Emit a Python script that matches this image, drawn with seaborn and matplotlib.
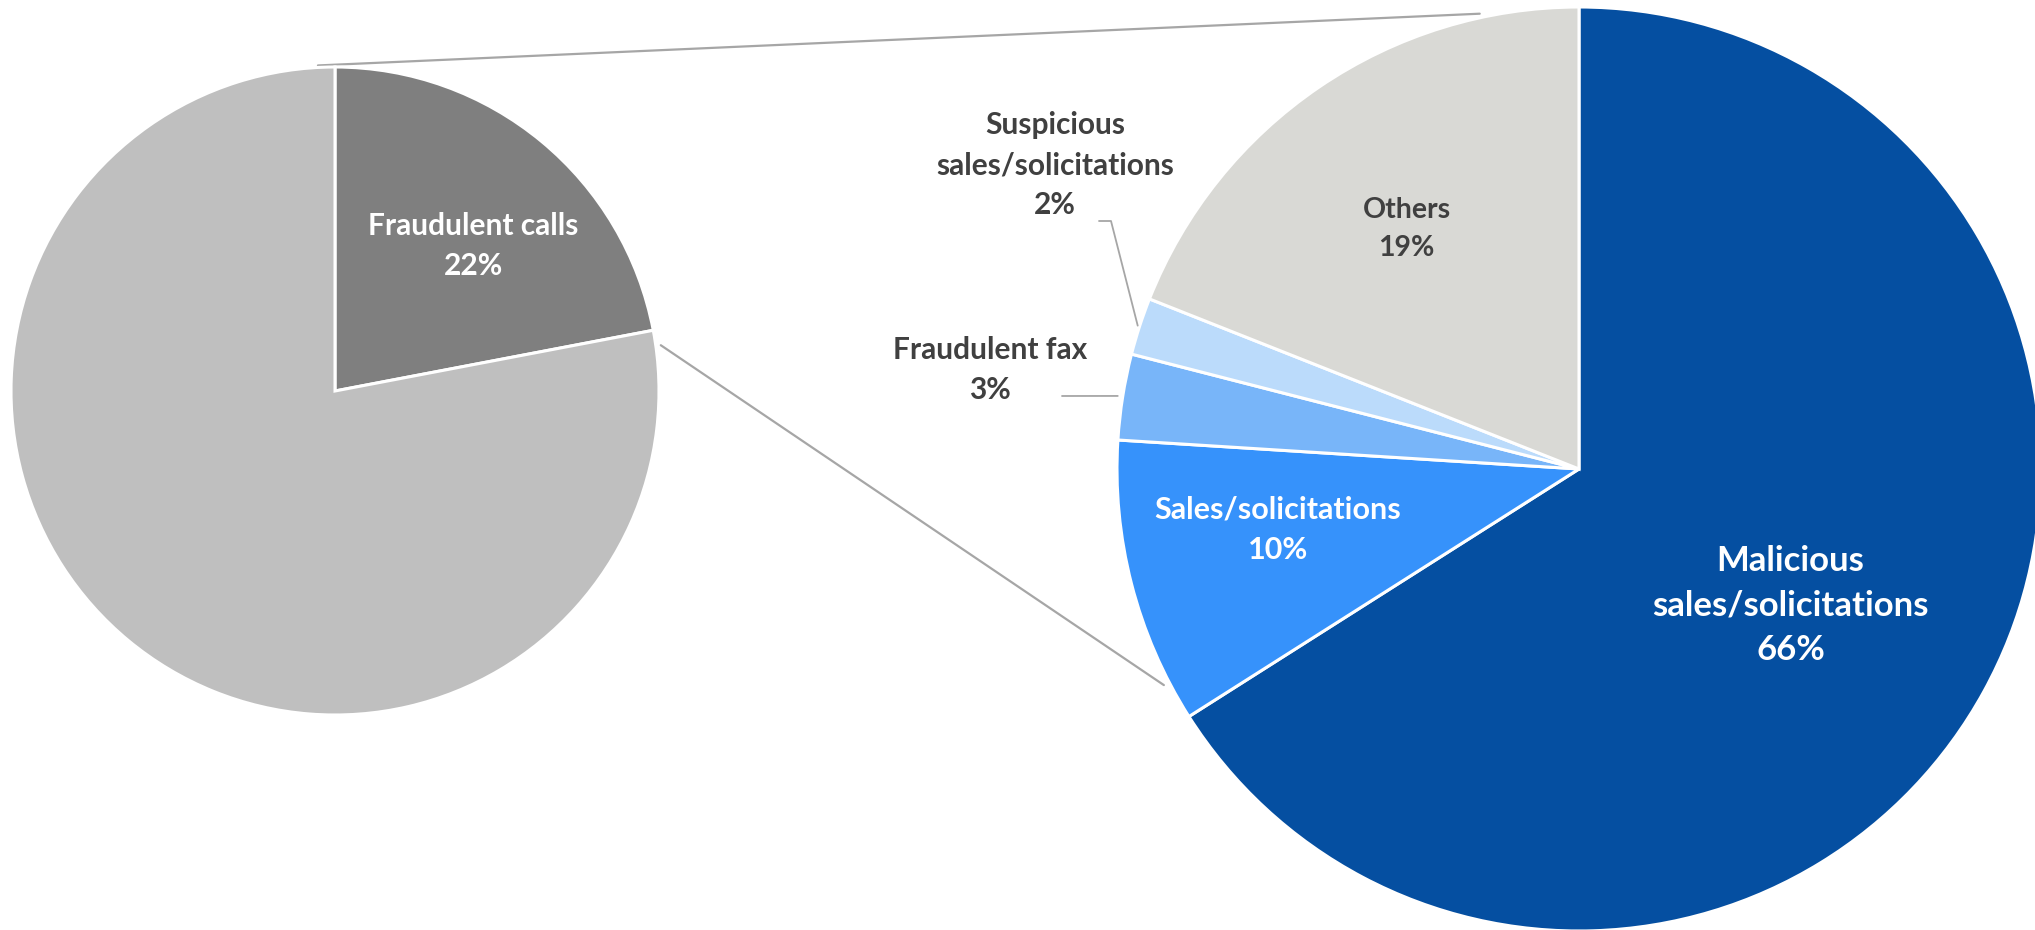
import numpy as np
import matplotlib
matplotlib.use("Agg")
import matplotlib.pyplot as plt
import seaborn as sns

# ---- data ----
main_labels = ["Fraudulent calls", "Other calls"]
main_values = [22, 78]

detail_labels = ["Malicious\nsales/solicitations", "Sales/solicitations",
                 "Fraudulent fax", "Suspicious\nsales/solicitations", "Others"]
detail_values = [66, 10, 3, 2, 19]

# ---- style ----
sns.set_theme(style="white")
plt.rcParams["font.family"] = ["Lato", "DejaVu Sans"]

main_colors = sns.color_palette(["#7F7F7F", "#BFBFBF"])
detail_colors = sns.color_palette(["#054FA1", "#3692FB", "#78B5F9", "#BBDBFB", "#D9D9D5"])

W, H = 2035, 930
fig = plt.figure(figsize=(W / 100, H / 100), dpi=100)
ax = fig.add_axes([0, 0, 1, 1])

# pie geometry in pixel units (y grows upwards)
c_main, r_main = (335, H - 391), 324
c_det, r_det = (1579, H - 469), 462

edge = dict(edgecolor="white", linewidth=2.2)
ax.pie(main_values, colors=main_colors, startangle=90, counterclock=False,
       center=c_main, radius=r_main, wedgeprops=edge)
ax.pie(detail_values, colors=detail_colors, startangle=90, counterclock=False,
       center=c_det, radius=r_det, wedgeprops=edge)


def on_circle(center, radius, angle_deg):
    """Point at a clockwise-from-top angle around a pie centre."""
    a = np.deg2rad(angle_deg)
    return center[0] + radius * np.sin(a), center[1] + radius * np.cos(a)


def mid_angle(values, i):
    cum = np.cumsum([0] + list(values))
    return 360 * (cum[i] + cum[i + 1]) / 2 / sum(values)


# connector lines between the two pies
line_kw = dict(color="#A6A6A6", lw=1.6, zorder=0)
p1 = on_circle(c_main, r_main + 2, -3)
p2 = on_circle(c_det, r_det + 4, -12.3)
ax.plot([p1[0], p2[0]], [p1[1], p2[1]], **line_kw)
p3 = on_circle(c_main, r_main + 5, 82)
p4 = on_circle(c_det, r_det + 6, 242.5)
ax.plot([p3[0], p4[0]], [p3[1], p4[1]], **line_kw)


def pct(v, total):
    return f"{round(100 * v / total)}%"


LS = 1.52
FS = 21.5

# labels inside the pies
tot_m = sum(main_values)
x, y = on_circle(c_main, r_main * 0.62, mid_angle(main_values, 0) + 4)
ax.text(x, y, f"{main_labels[0]}\n{pct(main_values[0], tot_m)}", ha="center", va="center",
        color="white", fontsize=FS, fontweight="bold", linespacing=LS)

tot_d = sum(detail_values)
inside = {0: (0.545, 4, "white", 25, 1.47), 1: (0.665, 3, "white", FS + 0.5, LS),
          4: (0.64, -1.5, "#404040", FS - 1, 1.6)}
for i, (rf, da, col, fs, ls) in inside.items():
    x, y = on_circle(c_det, r_det * rf, mid_angle(detail_values, i) + da)
    ax.text(x, y, f"{detail_labels[i]}\n{pct(detail_values[i], tot_d)}", ha="center",
            va="center", color=col, fontsize=fs, fontweight="bold", linespacing=ls)

# small slices: labels outside with leader lines
lead_kw = dict(color="#A6A6A6", lw=1.3)
# Fraudulent fax
tip = on_circle(c_det, r_det + 5, mid_angle(detail_values, 2))
ax.plot([1062, tip[0]], [H - 396, tip[1]], **lead_kw)
ax.text(990, H - 370, f"{detail_labels[2]}\n{pct(detail_values[2], tot_d)}", ha="center",
        va="center", color="#404040", fontsize=FS, fontweight="bold", linespacing=LS)
# Suspicious sales/solicitations
tip = on_circle(c_det, r_det + 2, mid_angle(detail_values, 3))
ax.plot([1099, 1111, tip[0]], [H - 221, H - 221, tip[1]], **lead_kw)
ax.text(1055, H - 165, f"{detail_labels[3]}\n{pct(detail_values[3], tot_d)}", ha="center",
        va="center", color="#404040", fontsize=FS, fontweight="bold", linespacing=LS)

ax.set_xlim(0, W)
ax.set_ylim(0, H)
ax.set_aspect("equal", adjustable="box")
ax.axis("off")

fig.savefig("out.png", dpi=100, facecolor="white")
